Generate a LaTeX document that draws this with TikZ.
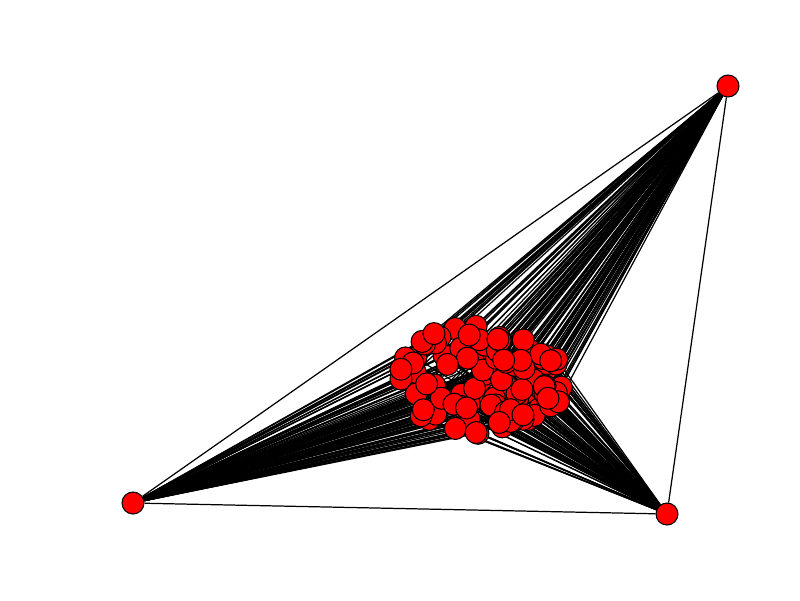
\documentclass[tikz,border=0pt]{standalone}
\usetikzlibrary{backgrounds}
\begin{document}
\begin{tikzpicture}[x=0.02cm, y=-0.02cm,
    vert/.style={circle, draw=black, fill=red, line width=0.6pt, minimum size=0.44cm, inner sep=0pt},
    edge/.style={draw=black, line width=0.7pt}
  ]
    \useasboundingbox (0,0) rectangle (800,600);
    % the three hubs
    \node[vert] (hubA) at (728,86) {};
    \node[vert] (hubB) at (133,503) {};
    \node[vert] (hubC) at (667,514) {};

    % the dense cluster
    \pgfmathsetseed{17}
    \foreach \i in {1,...,110}{
      \pgfmathsetmacro{\rr}{sqrt(rnd)}
      \pgfmathsetmacro{\aa}{360*rnd}
      \pgfmathsetmacro{\px}{478+88*\rr*cos(\aa)}
      \pgfmathsetmacro{\py}{380+54*\rr*sin(\aa)}
      \node[vert] (v\i) at (\px,\py) {};
    }

    \begin{scope}[on background layer]
      \foreach \i in {1,...,110}{
        \draw[edge] (hubA) -- (v\i) (hubB) -- (v\i) (hubC) -- (v\i);
      }
      \draw[edge] (hubA) -- (hubB) -- (hubC) -- (hubA);
    \end{scope}
  \end{tikzpicture}
\end{document}
